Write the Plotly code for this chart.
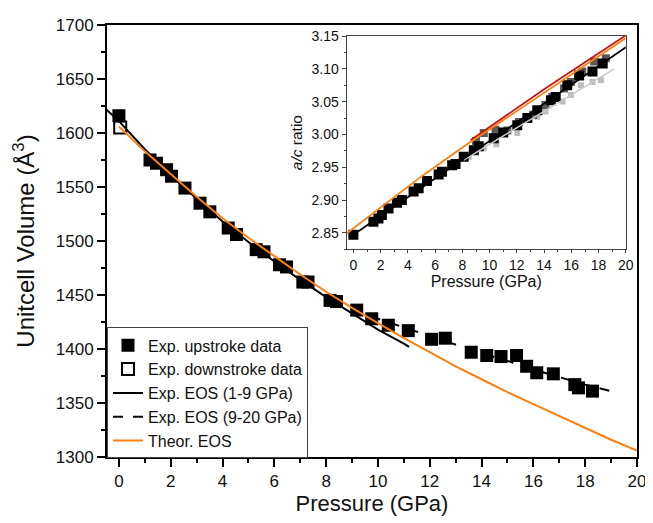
import plotly.graph_objects as go

# ---- Main panel data ----
up_P = [0, 1.2, 1.45, 1.84, 2.03, 2.55, 3.13, 3.51, 4.22, 4.54, 5.3, 5.6, 6.2, 6.47, 7.1, 7.3,
        8.15, 8.4, 9.18, 9.76, 10.4, 11.17, 12.07, 12.6, 13.6, 14.2, 14.75, 15.35, 15.74, 16.13,
        16.77, 17.6, 17.74, 18.28]
up_V = [1616, 1575, 1572, 1566, 1560, 1549, 1535, 1527, 1512, 1506, 1492, 1490, 1478, 1476, 1462, 1462,
        1445, 1444, 1436, 1428, 1422, 1417, 1409, 1410, 1397, 1394, 1393, 1394, 1384, 1378,
        1377, 1367, 1364, 1361]
down_P = [0.05]
down_V = [1605]

eos1_P = [-0.5, 0, 1, 2, 3, 4, 5, 6, 7, 8, 9, 10, 11, 11.2]
eos1_V = [1622, 1611, 1585, 1561, 1539, 1518, 1499, 1481, 1464, 1448, 1433, 1418, 1405, 1402]

eos2_P = [9, 10, 11, 12, 13, 14, 15, 16, 17, 18, 19, 19.3]
eos2_V = [1437, 1428, 1420, 1412, 1404, 1396, 1389, 1381, 1374, 1367, 1361, 1359]

theo_P = [0, 1, 2, 3, 4, 5, 6, 7, 8, 9, 10, 11, 12, 13, 14, 15, 16, 17, 18, 19, 20]
theo_V = [1606, 1583, 1562, 1541, 1521, 1503, 1486, 1469, 1453, 1438, 1424, 1410, 1397, 1384,
          1372, 1360, 1349, 1338, 1327, 1316, 1306]

# ---- Inset data (a/c ratio) ----
in_blk_P = [0, 1.47, 1.84, 2.09, 2.58, 3.2, 3.56, 4.42, 4.79, 5.4, 6.26, 6.5, 7.25, 7.5, 8.1, 8.84,
            9.2, 10.3, 11.0, 12.03, 12.77, 13.5, 14.5, 14.85, 15.7, 16.57, 17.55, 18.3]
in_blk_r = [2.847, 2.867, 2.872, 2.877, 2.887, 2.896, 2.900, 2.913, 2.918, 2.929, 2.939, 2.943, 2.953,
            2.955, 2.966, 2.976, 2.982, 2.994, 3.003, 3.014, 3.025, 3.037, 3.052, 3.057, 3.075,
            3.090, 3.096, 3.108]
in_dg_P = [9.0, 9.57, 10.43, 11.3, 12.15, 13.2, 14.1, 14.6, 15.46, 15.96, 16.8, 17.67, 18.53]
in_dg_r = [2.990, 3.002, 3.007, 3.006, 3.019, 3.030, 3.045, 3.057, 3.070, 3.080, 3.096, 3.111, 3.116]
in_lg_P = [8.47, 9.57, 10.5, 12.03, 13.5, 14.1, 15.35, 15.96, 16.7, 17.55, 18.17]
in_lg_r = [2.966, 2.979, 2.985, 3.002, 3.027, 3.035, 3.050, 3.060, 3.075, 3.080, 3.083]

in_fit_blk_P = [0, 20]
in_fit_blk_r = [2.847, 3.133]
in_fit_lg_P = [8.1, 19.15]
in_fit_lg_r = [2.961, 3.100]
in_theo_P = [-0.5, 2, 5, 8, 11, 14, 17, 20]
in_theo_r = [2.849, 2.889, 2.936, 2.980, 3.022, 3.064, 3.106, 3.147]
in_red_P = [8.6, 11, 14, 17, 20]
in_red_r = [2.991, 3.026, 3.069, 3.110, 3.151]

ORANGE = "#ff7f0e"
FONT = "Liberation Sans, Arial, sans-serif"

fig = go.Figure()

# main traces
fig.add_trace(go.Scatter(x=up_P, y=up_V, mode="markers", name="Exp. upstroke data",
                         marker=dict(symbol="square", size=13, color="black"), legendrank=1))
fig.add_trace(go.Scatter(x=down_P, y=down_V, mode="markers", name="Exp. downstroke data",
                         marker=dict(symbol="square-open", size=12, color="black", line=dict(width=2)),
                         legendrank=2))
fig.add_trace(go.Scatter(x=eos1_P, y=eos1_V, mode="lines", name="Exp. EOS (1-9 GPa)",
                         line=dict(color="black", width=2), legendrank=3))
fig.add_trace(go.Scatter(x=eos2_P, y=eos2_V, mode="lines", name="Exp. EOS (9-20 GPa)",
                         line=dict(color="black", width=2, dash="10px,10px"), legendrank=4))
fig.add_trace(go.Scatter(x=theo_P, y=theo_V, mode="lines", name="Theor. EOS",
                         line=dict(color=ORANGE, width=2), legendrank=5))

# inset traces
fig.add_trace(go.Scatter(x=in_lg_P, y=in_lg_r, mode="markers", xaxis="x2", yaxis="y2", showlegend=False,
                         marker=dict(symbol="square", size=6, color="#bdbdbd")))
fig.add_trace(go.Scatter(x=in_dg_P, y=in_dg_r, mode="markers", xaxis="x2", yaxis="y2", showlegend=False,
                         marker=dict(symbol="square", size=8, color="#5a5a5a")))
fig.add_trace(go.Scatter(x=in_blk_P, y=in_blk_r, mode="markers", xaxis="x2", yaxis="y2", showlegend=False,
                         marker=dict(symbol="square", size=10, color="black")))
fig.add_trace(go.Scatter(x=in_fit_lg_P, y=in_fit_lg_r, mode="lines", xaxis="x2", yaxis="y2", showlegend=False,
                         line=dict(color="#c8c8c8", width=1.5)))
fig.add_trace(go.Scatter(x=in_fit_blk_P, y=in_fit_blk_r, mode="lines", xaxis="x2", yaxis="y2", showlegend=False,
                         line=dict(color="black", width=1.8)))
fig.add_trace(go.Scatter(x=in_red_P, y=in_red_r, mode="lines", xaxis="x2", yaxis="y2", showlegend=False,
                         line=dict(color="#c81414", width=1.8)))
fig.add_trace(go.Scatter(x=in_theo_P, y=in_theo_r, mode="lines", xaxis="x2", yaxis="y2", showlegend=False,
                         line=dict(color=ORANGE, width=1.8)))

fig.update_layout(
    width=645, height=515,
    margin=dict(l=99, r=16, t=17, b=66, autoexpand=False),
    paper_bgcolor="white", plot_bgcolor="white",
    font=dict(family=FONT, color="#111111"),
    showlegend=True,
    legend=dict(x=0.0, y=0.30, xanchor="left", yanchor="top",
                bgcolor="white", bordercolor="#444444", borderwidth=1,
                font=dict(size=16, family=FONT, color="#111111"),
                tracegroupgap=0, itemwidth=30),
    xaxis=dict(range=[-0.46, 20], showline=True, linewidth=2, linecolor="black", mirror=True,
               automargin=False,
               ticks="outside", ticklen=8, tickwidth=1.5, tickcolor="black",
               tickvals=[0, 2, 4, 6, 8, 10, 12, 14, 16, 18, 20],
               minor=dict(dtick=1, tick0=0, ticks="outside", ticklen=4, tickcolor="black", tickwidth=1.5),
               tickfont=dict(size=17, family=FONT), showgrid=False, zeroline=False,
               title=dict(text="Pressure (GPa)", font=dict(size=22, family=FONT), standoff=3)),
    yaxis=dict(range=[1300, 1700], showline=True, linewidth=2, linecolor="black", mirror=True,
               automargin=False,
               ticks="outside", ticklen=8, tickwidth=1.5, tickcolor="black",
               tickvals=[1300, 1350, 1400, 1450, 1500, 1550, 1600, 1650, 1700],
               minor=dict(dtick=25, tick0=1300, ticks="outside", ticklen=4, tickcolor="black", tickwidth=1.5),
               tickfont=dict(size=17, family=FONT), showgrid=False, zeroline=False,
               title=dict(text="Unitcell Volume (Å<sup>3</sup>)", font=dict(size=24, family=FONT), standoff=14)),
    xaxis2=dict(domain=[0.452, 0.979], anchor="y2", range=[-0.5, 20],
                showline=True, linewidth=1, linecolor="#444444", mirror=True, automargin=False,
                ticks="outside", ticklen=3, tickcolor="#444444",
                tickvals=[0, 2, 4, 6, 8, 10, 12, 14, 16, 18, 20],
                minor=dict(dtick=1, tick0=0, ticks="outside", ticklen=2, tickcolor="#444444"),
                tickfont=dict(size=14, family=FONT), showgrid=False, zeroline=False,
                title=dict(text="Pressure (GPa)", font=dict(size=16, family=FONT), standoff=3)),
    yaxis2=dict(domain=[0.481, 0.9745], anchor="x2", range=[2.825, 3.15],
                showline=True, linewidth=1, linecolor="#444444", mirror=True, automargin=False,
                ticks="outside", ticklen=4, tickcolor="#444444",
                tickvals=[2.85, 2.90, 2.95, 3.00, 3.05, 3.10, 3.15], tickformat=".2f",
                minor=dict(dtick=0.025, tick0=2.85, ticks="outside", ticklen=2, tickcolor="#444444"),
                tickfont=dict(size=14, family=FONT), showgrid=False, zeroline=False,
                title=dict(text="<i>a/c</i> ratio", font=dict(size=15.5, family=FONT), standoff=5)),
)

fig.write_html("out.html")
